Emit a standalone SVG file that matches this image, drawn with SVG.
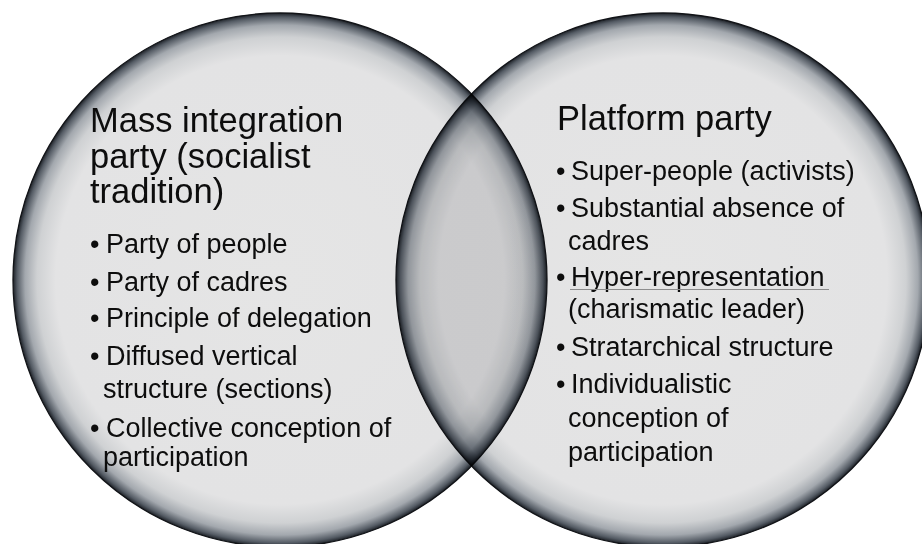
<svg xmlns="http://www.w3.org/2000/svg" width="922" height="544" viewBox="0 0 922 544">
  <defs>
    <radialGradient id="ballGrad" cx="0.5" cy="0.5" r="0.5">
      <stop offset="0" stop-color="#e5e5e5"/>
      <stop offset="0.84" stop-color="#e3e3e4"/>
      <stop offset="0.91" stop-color="#cfd1d3"/>
      <stop offset="0.955" stop-color="#a3a8ae"/>
      <stop offset="0.985" stop-color="#545b64"/>
      <stop offset="1" stop-color="#1c2026"/>
    </radialGradient>
    <style>
      .set { fill: url(#ballGrad); stroke: #121418; stroke-width: 1.3; mix-blend-mode: multiply; }
      .title { font-family: "Liberation Sans", Arial, sans-serif; font-size: 34.5px; fill: #0d0d0d; }
      .item { font-family: "Liberation Sans", Arial, sans-serif; font-size: 27px; fill: #0d0d0d; }
      .uline { stroke: #8c8c8c; stroke-width: 1; }
    </style>
  </defs>
  <rect width="922" height="544" fill="#ffffff"/>
  <g id="sets">
    <circle id="left-circle" class="set" cx="280" cy="280" r="267"/>
    <circle id="right-circle" class="set" cx="663" cy="280" r="267"/>
  </g>
  <g id="connectors"/>
  <g id="mass-integration-party">
    <text class="title" x="90" y="132">Mass integration</text>
    <text class="title" x="90" y="168">party (socialist</text>
    <text class="title" x="90" y="203">tradition)</text>
    <text class="item" x="90" y="253">•<tspan x="106">Party of people</tspan></text>
    <text class="item" x="90" y="291">•<tspan x="106">Party of cadres</tspan></text>
    <text class="item" x="90" y="327">•<tspan x="106">Principle of delegation</tspan></text>
    <text class="item" x="90" y="365">•<tspan x="106">Diffused vertical</tspan></text>
    <text class="item" x="103" y="398">structure (sections)</text>
    <text class="item" x="90" y="437">•<tspan x="106">Collective conception of</tspan></text>
    <text class="item" x="103" y="466">participation</text>
  </g>
  <g id="platform-party">
    <text class="title" x="557" y="130">Platform party</text>
    <text class="item" x="556" y="180">•<tspan x="571">Super-people (activists)</tspan></text>
    <text class="item" x="556" y="217">•<tspan x="571">Substantial absence of</tspan></text>
    <text class="item" x="568" y="250">cadres</text>
    <text class="item" x="556" y="286">•<tspan x="571">Hyper-representation</tspan></text>
    <line class="uline" x1="570" y1="289.5" x2="829" y2="289.5"/>
    <text class="item" x="568" y="318">(charismatic leader)</text>
    <text class="item" x="556" y="356">•<tspan x="571">Stratarchical structure</tspan></text>
    <text class="item" x="556" y="393">•<tspan x="571">Individualistic</tspan></text>
    <text class="item" x="568" y="427">conception of</text>
    <text class="item" x="568" y="461">participation</text>
  </g>
</svg>
